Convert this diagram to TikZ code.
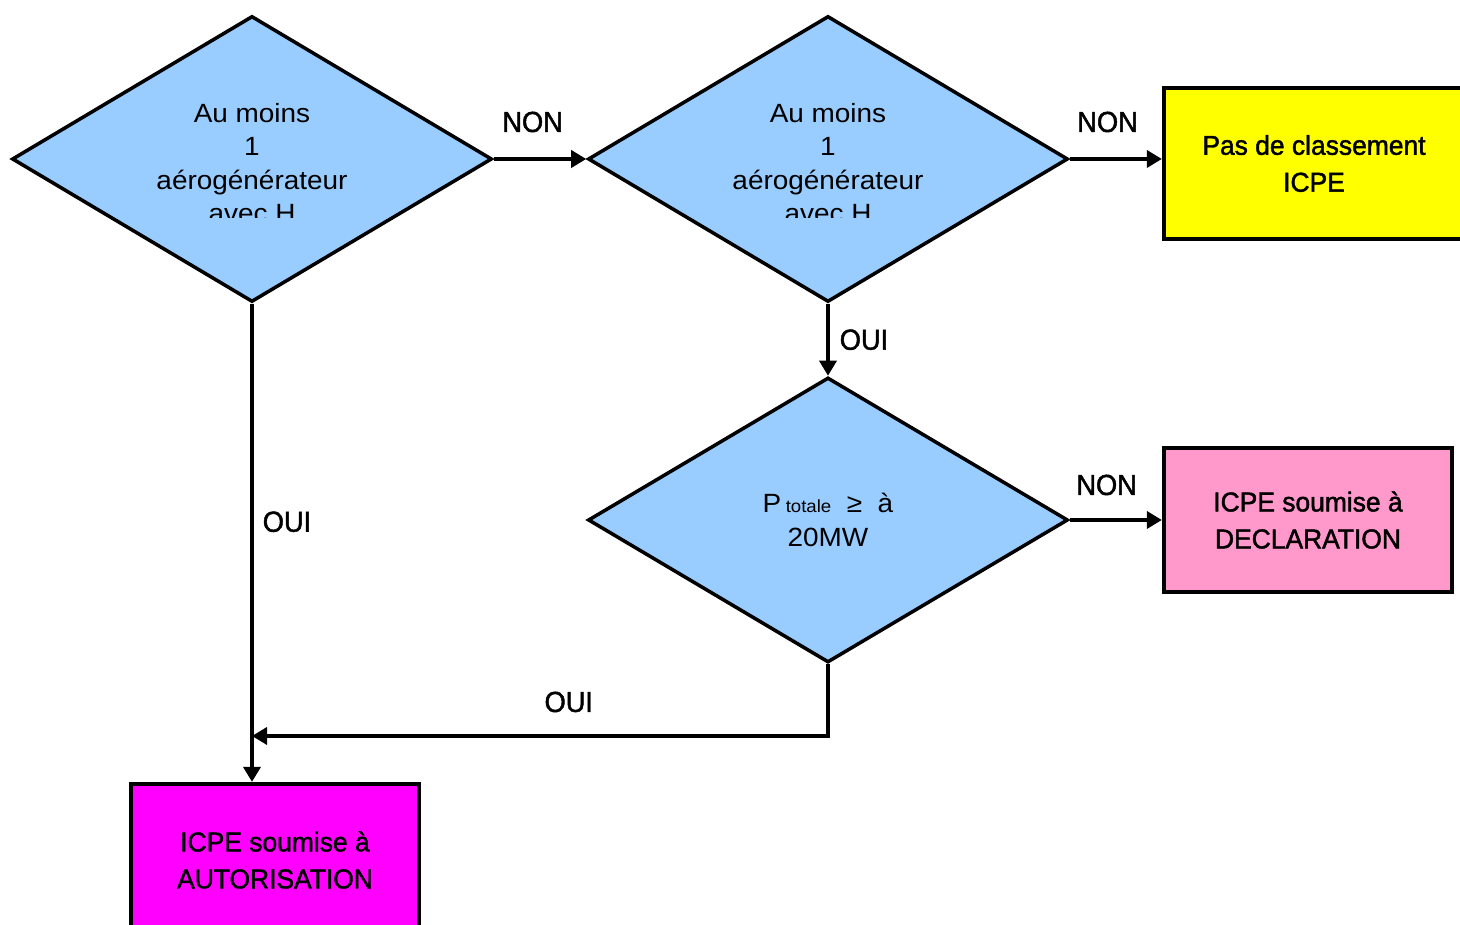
\documentclass[tikz,border=0pt]{standalone}
\usepackage{fontspec}
\setmainfont{Liberation Sans}
\newfontfamily\labelfont[FakeStretch=0.94,FakeBold=1.6]{Liberation Sans}
\newfontfamily\boxfont[FakeStretch=0.97,FakeBold=1.6]{Liberation Sans}
\newfontfamily\qfont[FakeStretch=1.06]{Liberation Sans}
\usetikzlibrary{shapes.geometric,arrows.meta,positioning}

\definecolor{decisionblue}{HTML}{99CCFF}
\definecolor{noicpe}{HTML}{FFFF00}
\definecolor{declpink}{HTML}{FF99CC}
\definecolor{automagenta}{HTML}{FF00FF}

\tikzset{
  decision/.style={diamond, draw, line width=2pt, fill=decisionblue,
    minimum width=9.6cm, minimum height=5.72cm, inner sep=0pt},
  qtext/.style={align=center, font=\qfont\fontsize{15}{18.9}\selectfont},
  outcome/.style={draw, line width=2.4pt, align=center,
    font=\boxfont\fontsize{15.5}{21}\selectfont, minimum width=5.76cm, minimum height=2.88cm},
  flow/.style={line width=2pt, -{Triangle[length=3mm,width=3.4mm]}},
  answer/.style={font=\labelfont\fontsize{16.5}{19}\selectfont, inner sep=0pt},
}

\begin{document}
\begin{tikzpicture}
\useasboundingbox (0,0) rectangle (29.2,18.5);

% The three questions
\node[decision] (q1) at (5.04,15.32) {};
\node[decision] (q2) at (16.56,15.32) {};
\node[decision, minimum height=5.7cm] (q3) at (16.56,8.10) {};

% Question texts (last line cut off, as on the slide)
\begin{scope}
\clip ([xshift=-2.4cm,yshift=-1.18cm]q1.center) rectangle ([xshift=2.4cm,yshift=1.5cm]q1.center);
\node[qtext] (q1text) at ([yshift=-0.08cm]q1.center) {Au moins\\1\\aérogénérateur\\avec H};
\end{scope}
\begin{scope}
\clip ([xshift=-2.4cm,yshift=-1.18cm]q2.center) rectangle ([xshift=2.4cm,yshift=1.5cm]q2.center);
\node[qtext] (q2text) at ([yshift=-0.08cm]q2.center) {Au moins\\1\\aérogénérateur\\avec H};
\end{scope}
\node[qtext] (q3text) at (q3.center) {P\,{\fontsize{10}{12}\selectfont totale}\ \ ≥\ \ à\\20MW};

% Outcomes
\node[outcome, fill=noicpe, minimum width=6cm, minimum height=3.02cm] (none) at (26.28,15.23) {Pas de classement\\ICPE};
\node[outcome, fill=declpink] (decl) at (26.16,8.10) {ICPE soumise à\\DECLARATION};
\node[outcome, fill=automagenta, minimum height=3.04cm] (auto) at (5.50,1.30) {ICPE soumise à\\AUTORISATION};

% Connectors
\coordinate (merge) at (q1.south |- 0,3.78);
\draw[flow] (q1.east) -- node[answer, above=0.5cm, pos=0.42] (n1) {NON} (q2.west);
\draw[flow] (q2.east) -- node[answer, above=0.5cm, pos=0.41] (n2) {NON} (q2.east -| none.west);
\draw[flow] (q2.south) -- node[answer, right=0.2cm] (o1) {OUI} (q3.north);
\draw[flow] (q3.east) -- node[answer, above=0.46cm, pos=0.4] (n3) {NON} (decl.west);
\draw[flow] (q3.south) |- node[answer, above=0.44cm, pos=0.725] (o2) {OUI} (merge);
\draw[flow] (q1.south) -- node[answer, right=0.18cm, pos=0.456] (o3) {OUI} (q1.south |- auto.north);
\end{tikzpicture}
\end{document}
